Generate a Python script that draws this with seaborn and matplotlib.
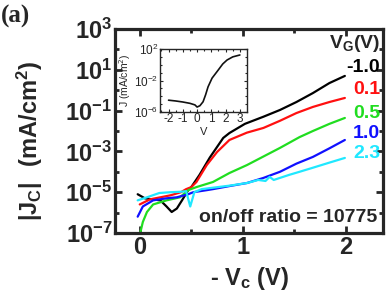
import numpy as np
import pandas as pd
import seaborn as sns
import matplotlib
matplotlib.use('Agg')
import matplotlib.pyplot as plt
from matplotlib.ticker import FixedLocator, FixedFormatter, NullFormatter

# Data (log10 of |Jc| in mA/cm^2)
vg_labels = ['-1.0', '0.1', '0.5', '1.0', '2.3']
vg_colors = ['#000000', '#ff1010', '#20dd20', '#1010ff', '#20e8ff']

vc_black = [-0.02, 0.05, 0.12, 0.2, 0.26, 0.31, 0.36, 0.41, 0.47, 0.5, 0.58, 0.68, 0.81, 0.87,
            1.02, 1.2, 1.36, 1.52, 1.68, 1.84, 1.99]
log_black = [-5.1, -5.3, -5.35, -5.4, -5.7, -5.97, -5.8, -5.4, -4.9, -4.75, -4.15, -3.3, -2.34, -2.1,
             -1.65, -1.3, -0.97, -0.58, -0.14, 0.35, 0.7]

vc_red = [0.0, 0.1, 0.2, 0.3, 0.4, 0.45, 0.5, 0.55, 0.65, 0.75, 0.87, 1.04, 1.2, 1.36, 1.52,
          1.68, 1.84, 1.99]
log_red = [-5.6, -5.35, -5.25, -5.15, -5.0, -4.85, -4.75, -4.5, -3.67, -3.03, -2.44, -2.08, -1.85,
           -1.5, -1.12, -0.82, -0.58, -0.38]

vc_green = [0.0, 0.03, 0.07, 0.13, 0.26, 0.39, 0.47, 0.55, 0.71, 0.87, 1.04, 1.2, 1.36, 1.55,
            1.68, 1.84, 1.99]
log_green = [-7.1, -6.46, -5.97, -5.6, -5.4, -5.25, -4.9, -4.75, -4.5, -4.06, -3.67, -3.25, -2.83,
             -2.3, -2.0, -1.65, -1.36]

vc_blue = [-0.02, 0.03, 0.13, 0.26, 0.36, 0.47, 0.52, 0.65, 0.71, 0.87, 1.04, 1.2, 1.36, 1.52,
           1.68, 1.84, 1.99]
log_blue = [-6.2, -5.7, -5.4, -5.3, -5.25, -5.1, -5.0, -4.9, -4.85, -4.7, -4.55, -4.3, -4.0, -3.6,
            -3.27, -2.85, -2.44]

vc_cyan = [-0.02, 0.07, 0.19, 0.3, 0.39, 0.45, 0.49, 0.53, 0.6, 0.71, 0.87, 1.04, 1.15, 1.22,
           1.26, 1.3, 1.36, 1.45, 1.55, 1.68, 1.84, 1.99]
log_cyan = [-5.4, -5.25, -5.04, -5.0, -4.98, -4.95, -5.7, -5.0, -4.85, -4.78, -4.68, -4.55, -4.4,
            -4.45, -4.25, -4.4, -4.3, -4.15, -4.0, -3.8, -3.55, -3.32]

# inset: J vs V
v_inset = [-2.0, -1.5, -1.0, -0.5, -0.15, 0.0, 0.2, 0.42, 0.6, 0.77, 1.05, 1.47, 1.8, 2.1, 2.5, 3.0]
log_inset = [-4.5, -4.6, -4.73, -4.9, -5.1, -5.37, -5.2, -4.7, -3.8, -2.8, -1.7, -0.7, 0.1, 0.6,
             1.0, 1.24]

main_yticks = [-7, -5, -3, -1, 1, 3]
inset_yticks = [-6, -2, 2]
inset_xticks = [-2, -1, 0, 1, 2, 3]

sns.set_style('ticks')
plt.rcParams['font.family'] = ['Liberation Sans', 'DejaVu Sans']
plt.rcParams['xtick.direction'] = 'in'
plt.rcParams['ytick.direction'] = 'in'

frames = []
for lab, xs, ys in zip(vg_labels,
                       [vc_black, vc_red, vc_green, vc_blue, vc_cyan],
                       [log_black, log_red, log_green, log_blue, log_cyan]):
    frames.append(pd.DataFrame({'vc': xs, 'j': 10.0 ** np.array(ys), 'vg': lab}))
df = pd.concat(frames, ignore_index=True)

fig = plt.figure(figsize=(3.91, 3.01), dpi=100)
ax = fig.add_axes([115 / 391, 68 / 301, 268 / 391, 204 / 301])

sns.lineplot(data=df, x='vc', y='j', hue='vg', hue_order=vg_labels,
             palette=vg_colors, sort=False, estimator=None, lw=1.6,
             legend=False, ax=ax)
ax.set_yscale('log')
ax.set_xlim(-0.24, 2.36)
ax.set_ylim(1e-7, 1e3)

ax.set_xticks([0, 1, 2])
ax.set_xticklabels(['0', '1', '2'], fontsize=17, fontweight='bold')
ax.xaxis.set_minor_locator(FixedLocator([-0.5, 0.5, 1.5]))
ytk = [10.0 ** e for e in main_yticks]
ax.yaxis.set_major_locator(FixedLocator(ytk))
ax.yaxis.set_major_formatter(FixedFormatter([r'$\mathdefault{10^{%d}}$' % e for e in main_yticks]))
ax.yaxis.set_minor_locator(FixedLocator([10.0 ** e for e in [-6, -4, -2, 0, 2]]))
ax.yaxis.set_minor_formatter(NullFormatter())
for t in ax.get_yticklabels():
    t.set_fontsize(17)
    t.set_fontweight('bold')
ax.tick_params(which='both', top=True, right=True, width=2, pad=2)
ax.tick_params(which='major', length=5)
ax.tick_params(which='minor', length=3)
for s in ax.spines.values():
    s.set_linewidth(2.3)
ax.set_xlabel('')
ax.set_ylabel('')

fig.text(250 / 391, 1 - 278 / 301, r'- $\mathdefault{V_{c}}$ (V)', fontsize=17,
         fontweight='bold', ha='center', va='center')
fig.text(30 / 391, 1 - 141 / 301, r'$\mathdefault{|J_{C}|\ \ (mA/cm^{2})}$', fontsize=17,
         fontweight='bold', ha='center', va='center', rotation=90)
fig.text(0.003, 1 - 16 / 301, '(a)', fontsize=18, fontweight='bold',
         family='Liberation Serif', ha='left', va='center')

# V_G legend written as coloured labels
ax.text(0.989, (233 - 44) / 204, r'$\mathdefault{V_{G}(V)}$', transform=ax.transAxes,
        ha='right', va='center', fontsize=14, fontweight='bold')
for lab, col, py in zip(vg_labels, vg_colors, [68, 90, 113, 133, 153]):
    ax.text(0.989, (233 - py) / 204, lab, transform=ax.transAxes, ha='right', va='center',
            fontsize=14, fontweight='bold', color=col)
ax.text(0.978, (233 - 217) / 204, 'on/off ratio = 10775', transform=ax.transAxes,
        ha='right', va='center', fontsize=14, fontweight='bold')

# inset
axin = fig.add_axes([160 / 391, 1 - 112 / 301, 87 / 391, 63 / 301])
sns.lineplot(x=v_inset, y=10.0 ** np.array(log_inset), color='#111111', lw=1.2,
             sort=False, estimator=None, ax=axin)
axin.set_yscale('log')
axin.set_xlim(-2.6, 3.5)
axin.set_ylim(1e-6, 1e2)
axin.set_xticks(inset_xticks)
axin.set_xticklabels([str(v) for v in inset_xticks], fontsize=8.5)
axin.xaxis.set_minor_locator(FixedLocator([-2.5, -1.5, -0.5, 0.5, 1.5, 2.5]))
axin.yaxis.set_major_locator(FixedLocator([10.0 ** e for e in inset_yticks]))
axin.yaxis.set_major_formatter(FixedFormatter([r'$\mathdefault{10^{%d}}$' % e for e in inset_yticks]))
axin.yaxis.set_minor_locator(FixedLocator([10.0 ** e for e in range(-5, 2)]))
axin.yaxis.set_minor_formatter(NullFormatter())
for t in axin.get_yticklabels():
    t.set_fontsize(8.5)
axin.tick_params(which='both', top=True, right=True, width=0.8, pad=1)
axin.tick_params(which='major', length=2.5)
axin.tick_params(which='minor', length=1.5)
for s in axin.spines.values():
    s.set_linewidth(1.0)
axin.set_xlabel('V', fontsize=8, labelpad=1)
axin.set_ylabel(r'J (mA/cm$^2$)', fontsize=7.5, labelpad=1)

fig.savefig('out.png', dpi=100)
